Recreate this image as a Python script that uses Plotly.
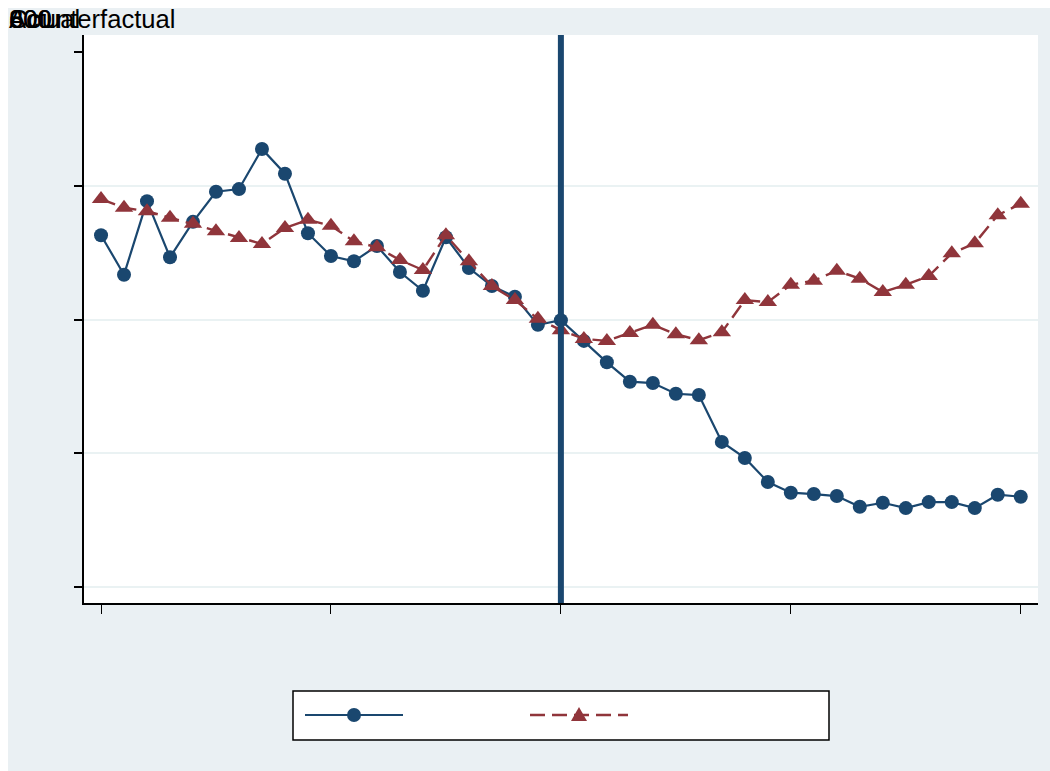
import plotly.graph_objects as go

# Series data (annual values)
years = list(range(1970, 2011))
actual = [726, 667, 777, 693, 746, 791, 795, 855, 818, 729,
          695, 687, 710, 671, 643, 723, 677, 650, 634, 592,
          599, 568, 536, 507, 505, 489, 487, 417, 393, 357,
          341, 339, 336, 320, 326, 318, 327, 327, 318, 338,
          335]
counterfactual = [780, 767, 762, 752, 743, 732, 722, 713, 737, 749,
                  740, 717, 708, 689, 674, 726, 687, 650, 629, 601,
                  584, 571, 568, 580, 592, 578, 569, 581, 629, 626,
                  652, 658, 673, 661, 641, 652, 665, 699, 714, 756,
                  773]
treatment_year = 1990
y_ticks = [200, 400, 600, 800, 1000]
y_grid = [200, 400, 600, 800]
x_ticks = [1970, 1980, 1990, 2000, 2010]
series_names = ["Actual", "Counterfactual"]
overlay_labels = ["600", "800", "Actual", "Counterfactual"]

NAVY = "#1a476f"
MAROON = "#90353b"
REGION = "#eaf0f3"
GRID = "#eaf2f3"

W, H = 1050, 771
L, R, T, B = 84, 12, 35, 168
PW, PH = W - L - R, H - T - B


def px_x(p):
    return (p - L) / PW


def px_y(p):
    return (H - B - p) / PH


fig = go.Figure()

fig.add_trace(go.Scatter(
    x=years, y=actual, name=series_names[0], mode="lines+markers",
    line=dict(color=NAVY, width=2.2),
    marker=dict(symbol="circle", size=14, color=NAVY),
    showlegend=False,
))
fig.add_trace(go.Scatter(
    x=years, y=counterfactual, name=series_names[1], mode="lines+markers",
    line=dict(color=MAROON, width=2.4, dash="15px,7px"),
    marker=dict(symbol="triangle-up", size=16, color=MAROON),
    showlegend=False,
))
# invisible trace on the overlay axis that carries the gridlines
fig.add_trace(go.Scatter(x=[years[0]], y=[y_grid[0]], yaxis="y2",
                         mode="markers", marker=dict(opacity=0),
                         showlegend=False, hoverinfo="skip"))

shapes = []
# treatment year marker
shapes.append(dict(type="line", xref="x", yref="paper",
                   x0=treatment_year, x1=treatment_year, y0=0, y1=1,
                   line=dict(color=NAVY, width=6), layer="above"))
# white page margin strips
shapes.append(dict(type="rect", xref="paper", yref="paper",
                   x0=px_x(-2), x1=px_x(8), y0=px_y(H + 2), y1=px_y(-2),
                   fillcolor="white", line=dict(width=0)))
shapes.append(dict(type="rect", xref="paper", yref="paper",
                   x0=px_x(-2), x1=px_x(W + 2), y0=px_y(8), y1=px_y(-2),
                   fillcolor="white", line=dict(width=0)))

# legend box
lx0, lx1, ly0, ly1 = 293, 829, 691, 740
shapes.append(dict(type="rect", xref="paper", yref="paper",
                   x0=px_x(lx0), x1=px_x(lx1), y0=px_y(ly1), y1=px_y(ly0),
                   fillcolor="white", line=dict(color="black", width=1.5)))
ly = 715
shapes.append(dict(type="line", xref="paper", yref="paper",
                   x0=px_x(305), x1=px_x(403), y0=px_y(ly), y1=px_y(ly),
                   line=dict(color=NAVY, width=2.2)))
shapes.append(dict(type="circle", xref="paper", yref="paper",
                   x0=px_x(347), x1=px_x(361), y0=px_y(ly + 7), y1=px_y(ly - 7),
                   fillcolor=NAVY, line=dict(color=NAVY, width=0)))
shapes.append(dict(type="line", xref="paper", yref="paper",
                   x0=px_x(530), x1=px_x(628), y0=px_y(ly), y1=px_y(ly),
                   line=dict(color=MAROON, width=2.4, dash="15px,7px")))
tri = "M {:.5f} {:.5f} L {:.5f} {:.5f} L {:.5f} {:.5f} Z".format(
    px_x(571), px_y(ly + 6), px_x(587), px_y(ly + 6), px_x(579), px_y(ly - 8))
shapes.append(dict(type="path", xref="paper", yref="paper", path=tri,
                   fillcolor=MAROON, line=dict(color=MAROON, width=0)))

annotations = []
for txt in overlay_labels:
    annotations.append(dict(
        text=txt, xref="paper", yref="paper", x=px_x(7), y=px_y(3),
        xanchor="left", yanchor="top", showarrow=False,
        font=dict(family="Liberation Sans, Arial, sans-serif", size=25.6,
                  color="black"),
    ))

fig.update_layout(
    width=W, height=H,
    margin=dict(l=L, r=R, t=T, b=B, pad=0),
    paper_bgcolor=REGION,
    plot_bgcolor="white",
    showlegend=False,
    shapes=shapes,
    annotations=annotations,
    xaxis=dict(
        range=[1969.26, 2010.75], tickvals=x_ticks, showticklabels=False,
        ticks="outside", ticklen=9, tickwidth=1.2, tickcolor="black",
        showline=True, linecolor="black", linewidth=1.5,
        showgrid=False, zeroline=False,
    ),
    yaxis=dict(
        range=[176.1, 1025.4], tickvals=y_ticks, showticklabels=False,
        ticks="outside", ticklen=8, tickwidth=1.5, tickcolor="black",
        showline=True, linecolor="black", linewidth=1.5,
        showgrid=False, zeroline=False,
    ),
    yaxis2=dict(
        range=[176.1, 1025.4], tickvals=y_grid, showticklabels=False,
        overlaying="y", showgrid=True, gridcolor=GRID, gridwidth=2,
        ticks="", showline=False, zeroline=False, layer="below traces",
    ),
)

fig.write_html("out.html")
